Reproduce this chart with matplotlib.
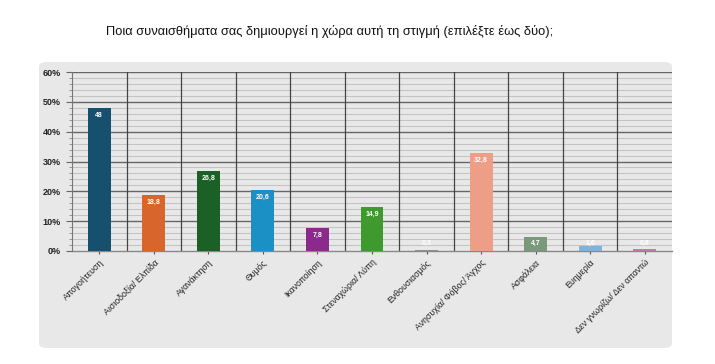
import matplotlib
matplotlib.use("Agg")
import matplotlib.pyplot as plt
from matplotlib.patches import FancyBboxPatch
from matplotlib.ticker import MultipleLocator, FuncFormatter
import numpy as np

title = "Ποια συναισθήματα σας δημιουργεί η χώρα αυτή τη στιγμή (επιλέξτε έως δύο);"
categories = ["Απογοήτευση", "Αισιοδοξία/ Ελπίδα", "Αγανάκτηση", "Θυμός", "Ικανοποίηση",
              "Στεναχώρια/ Λύπη", "Ενθουσιασμός", "Ανησυχία/ Φόβος/ Άγχος", "Ασφάλεια",
              "Ευημερία", "Δεν γνωρίζω/ Δεν απαντώ"]
values = [48, 18.8, 26.8, 20.6, 7.8, 14.9, 0.3, 32.8, 4.7, 1.6, 0.8]
value_labels = ["48", "18,8", "26,8", "20,6", "7,8", "14,9", "0,3", "32,8", "4,7", "1,6", "0,8"]
colors = ["#17506e", "#d8662c", "#1b6125", "#1b90c4", "#8b2a8c", "#3e9a2c",
          "#8f8f8f", "#ee9d86", "#7a987a", "#7db3e0", "#c27aa8"]
yticks = [0, 10, 20, 30, 40, 50, 60]

plt.rcParams['font.family'] = ['Liberation Sans', 'DejaVu Sans']

fig = plt.figure(figsize=(7.15, 3.64), dpi=100)
fig.patch.set_facecolor("white")

# panel background
panel = FancyBboxPatch((39/715, 1 - 348/364), (672 - 39)/715, (348 - 62)/364,
                       boxstyle="round,pad=0,rounding_size=0.012",
                       transform=fig.transFigure, facecolor="#e8e8e8",
                       edgecolor="none", zorder=-10)
fig.patches.append(panel)

fig.text(330/715, 1 - 32/364, title, ha="center", va="center", fontsize=9.3, color="#111111")

ax = fig.add_axes([72/715, 1 - 251/364, (672 - 72)/715, (251 - 72)/364])
ax.set_zorder(1)
ax.set_facecolor("#e8e8e8")
n = len(categories)
x = np.arange(n)
ax.set_xlim(-0.5, n - 0.5)
ax.set_ylim(0, 60)

# minor grid
for y in range(0, 61, 2):
    if y % 10 != 0:
        ax.axhline(y, color="#c4c4c4", lw=0.8, zorder=1)
for y in yticks[1:]:
    ax.axhline(y, color="#666666", lw=1.0, zorder=1)
for b in np.arange(0.5, n - 0.5, 1):
    ax.axvline(b, color="#444444", lw=0.9, zorder=1)

bars = ax.bar(x, values, width=0.42, color=colors, zorder=3)
for xi, v, lab in zip(x, values, value_labels):
    ax.text(xi, max(v - 2.5, 2.6), lab, ha="center", va="center", fontsize=5,
            color="white", fontweight="bold", zorder=4)

ax.set_yticks(yticks)
ax.yaxis.set_major_formatter(FuncFormatter(lambda v, p: f"{int(v)}%"))
ax.yaxis.set_minor_locator(MultipleLocator(2))
ax.tick_params(axis="y", which="major", length=4, width=0.8, color="#666666",
               labelsize=6.5, pad=4)
ax.tick_params(axis="y", which="minor", length=2, width=0.6, color="#888888")
for t in ax.get_yticklabels():
    t.set_fontweight("bold")
    t.set_color("#222222")

ax.set_xticks(x)
ax.set_xticklabels(categories, rotation=45, ha="right", rotation_mode="anchor",
                   fontsize=6.3, color="#222222")
ax.tick_params(axis="x", length=2, width=0.8, color="#555555", pad=3)

for s in ["top", "right"]:
    ax.spines[s].set_visible(False)
ax.spines["left"].set_color("#777777")
ax.spines["left"].set_linewidth(0.8)
ax.spines["bottom"].set_color("#888888")
ax.spines["bottom"].set_linewidth(1.0)
ax.spines["bottom"].set_zorder(2)

fig.savefig("out.png", dpi=100)
